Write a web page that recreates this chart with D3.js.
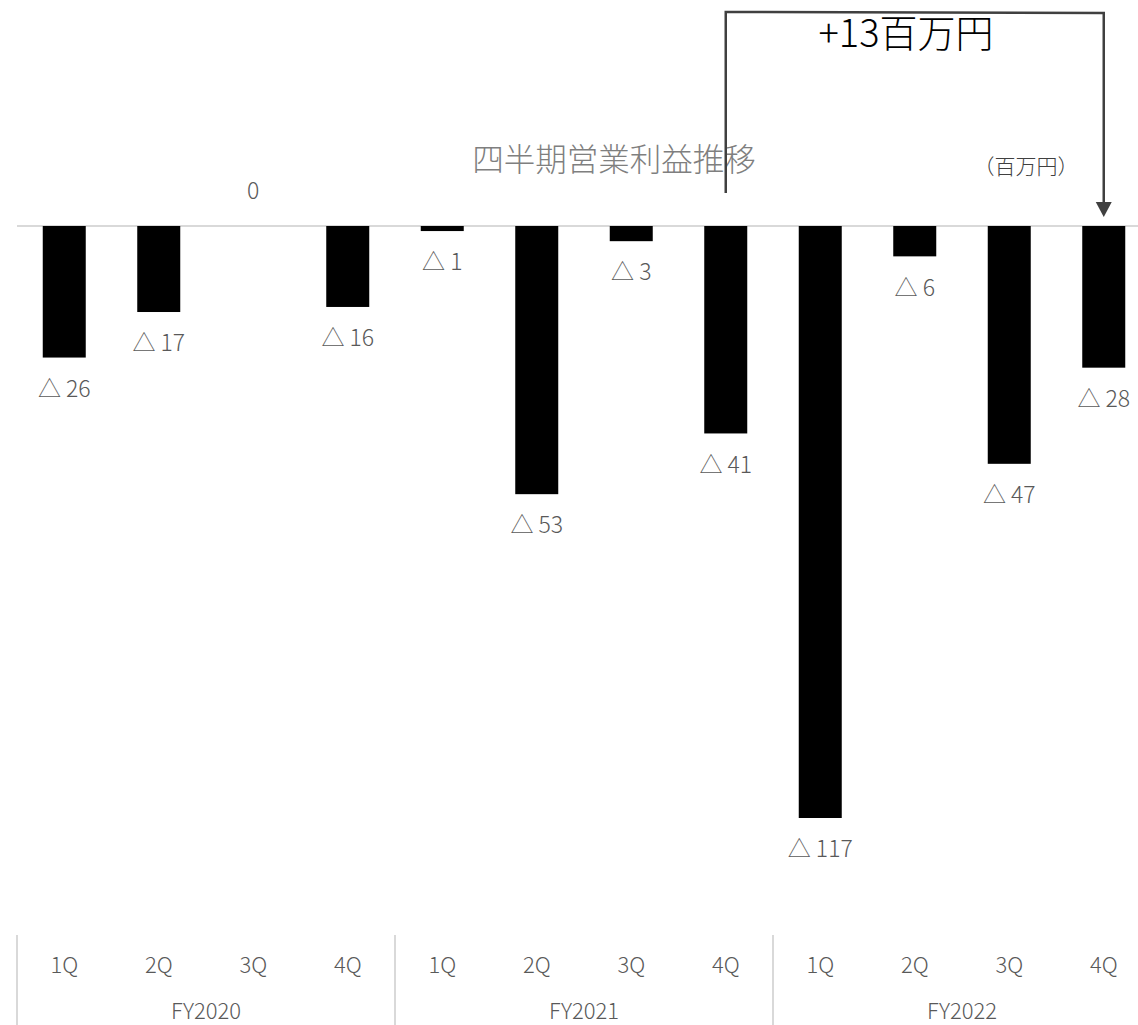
<!DOCTYPE html>
<html>
<head>
<meta charset="utf-8">
<script src="https://cdn.jsdelivr.net/npm/d3@7"></script>
<style>
  body { margin: 0; background: #fff; }
  text { font-family: "Noto Sans CJK JP", "Noto Sans", sans-serif; font-weight: 300; }
</style>
</head>
<body>
<div id="container"></div>
<script>
/* DATA */
const years = ["FY2020", "FY2021", "FY2022"];
const quarters = ["1Q", "2Q", "3Q", "4Q"];
const values = [-26, -17, 0, -16, -1, -53, -3, -41, -117, -6, -47, -28];

/* CONSTANTS */
const width = 1138, height = 1025;
const x0 = 17, x1 = 1151, zeroY = 226;

const cats = [];
years.forEach(y => quarters.forEach(q => cats.push(y + "-" + q)));
const data = cats.map((c, i) => ({ key: c, value: values[i], year: c.split("-")[0], q: c.split("-")[1] }));

/* SCALES */
const xScale = d3.scaleBand()
  .domain(cats)
  .range([x0, x1])
  .paddingInner(0.545)
  .paddingOuter(0.2725);

const yScale = d3.scaleLinear()
  .domain([0, -117])
  .range([zeroY, 818]);

const svg = d3.select("#container")
  .append("svg")
  .attr("width", width)
  .attr("height", height);

// baseline
svg.append("line")
  .attr("x1", x0).attr("x2", width)
  .attr("y1", yScale(0)).attr("y2", yScale(0))
  .attr("stroke", "#d9d9d9").attr("stroke-width", 2);

// bars
svg.selectAll(".bar")
  .data(data)
  .join("rect")
  .attr("class", "bar")
  .attr("x", d => xScale(d.key))
  .attr("width", xScale.bandwidth())
  .attr("y", d => yScale(Math.max(0, d.value)))
  .attr("height", d => Math.abs(yScale(d.value) - yScale(0)))
  .attr("fill", "#000");

// value labels
svg.selectAll(".lbl")
  .data(data)
  .join("text")
  .attr("class", "lbl")
  .attr("x", d => xScale(d.key) + xScale.bandwidth() / 2)
  .attr("y", d => d.value === 0 ? yScale(0) - 33 : yScale(d.value) + 33)
  .attr("dominant-baseline", "middle")
  .attr("text-anchor", "middle")
  .attr("font-size", 23)
  .attr("fill", "#595959")
  .text(d => d.value === 0 ? "0" : "△ " + Math.abs(d.value));

// quarter labels
svg.selectAll(".qlbl")
  .data(data)
  .join("text")
  .attr("class", "qlbl")
  .attr("x", d => xScale(d.key) + xScale.bandwidth() / 2)
  .attr("y", 967)
  .attr("dominant-baseline", "middle")
  .attr("text-anchor", "middle")
  .attr("font-size", 22)
  .attr("fill", "#595959")
  .text(d => d.q);

// year labels and separators
const step = xScale.step();
years.forEach((y, i) => {
  const left = x0 + i * 4 * step;
  svg.append("line")
    .attr("x1", left).attr("x2", left)
    .attr("y1", 935).attr("y2", height)
    .attr("stroke", "#d9d9d9").attr("stroke-width", 2);
  svg.append("text")
    .attr("x", left + 2 * step)
    .attr("y", 1013)
    .attr("dominant-baseline", "middle")
    .attr("text-anchor", "middle")
    .attr("font-size", 22)
    .attr("fill", "#595959")
    .text(y);
});

// title
svg.append("text")
  .attr("x", 614).attr("y", 162)
  .attr("dominant-baseline", "middle")
  .attr("text-anchor", "middle")
  .attr("font-size", 31.5)
  .attr("fill", "#7f7f7f")
  .text("四半期営業利益推移");

// unit
svg.append("text")
  .attr("x", 1026).attr("y", 168)
  .attr("dominant-baseline", "middle")
  .attr("text-anchor", "middle")
  .attr("font-size", 21)
  .attr("font-weight", 400)
  .attr("fill", "#404040")
  .text("（百万円）");

// bracket arrow from FY2021 4Q to FY2022 4Q
const ax = xScale(cats[7]) + xScale.bandwidth() / 2;
const bx = xScale(cats[11]) + xScale.bandwidth() / 2;
svg.append("path")
  .attr("d", `M${ax},193 L${ax},12 L${bx},13 L${bx},204`)
  .attr("fill", "none")
  .attr("stroke", "#404040")
  .attr("stroke-width", 2.5);
svg.append("path")
  .attr("d", `M${bx - 8},202 L${bx + 8},202 L${bx},217 Z`)
  .attr("fill", "#404040");

svg.append("text")
  .attr("x", 906).attr("y", 37)
  .attr("dominant-baseline", "middle")
  .attr("text-anchor", "middle")
  .attr("font-size", 38)
  .attr("fill", "#000")
  .text("+13百万円");
</script>
</body>
</html>
